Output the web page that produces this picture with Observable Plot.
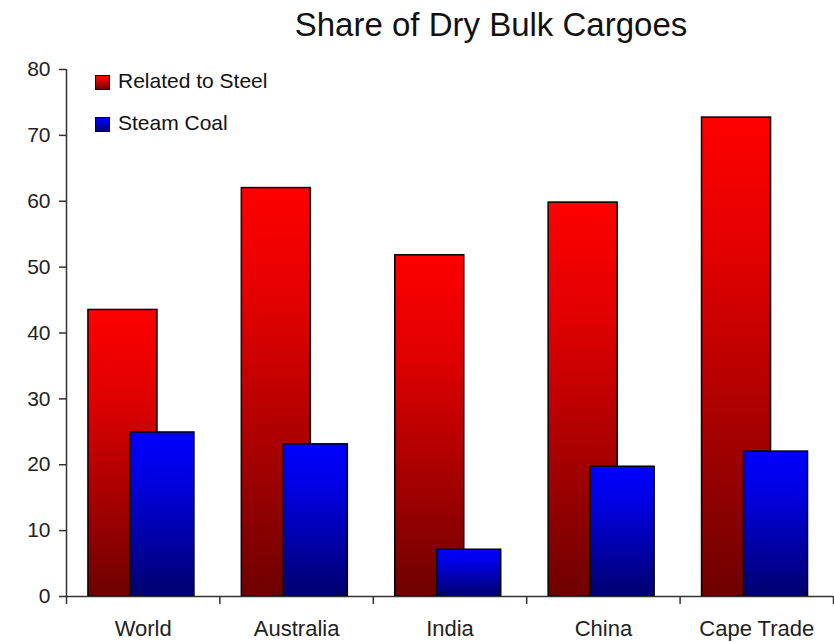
<!DOCTYPE html>
<html>
<head>
<meta charset="utf-8">
<script src="https://cdn.jsdelivr.net/npm/d3@7"></script>
<script src="https://cdn.jsdelivr.net/npm/@observablehq/plot@0.6"></script>
<style>
  html, body { margin: 0; padding: 0; background: #fff; overflow: hidden; }
  #wrap { position: relative; width: 834px; height: 642px; font-family: "Liberation Sans", Arial, sans-serif; }
  #title { position: absolute; left: 0; width: 982px; top: 6px; text-align: center; font-size: 33px; color: #111; line-height: 38px; }
  #legend { position: absolute; left: 95px; top: 70px; font-size: 21px; color: #111; }
  .item { display: flex; align-items: center; height: 21px; margin-bottom: 21px; }
  .sw { width: 13px; height: 13px; border: 1px solid #000; margin-right: 8px; margin-top: 4px; box-sizing: content-box; }
</style>
</head>
<body>
<div id="wrap">
  <div id="title">Share of Dry Bulk Cargoes</div>
  <div id="legend"></div>
</div>
<script>
// Share (%) of dry bulk cargoes by trade
const regions = ["World", "Australia", "India", "China", "Cape Trade"];
const steelShare = [43.5, 62, 51.8, 59.8, 72.7];
const coalShare = [24.9, 23.1, 7.1, 19.7, 22.0];
const yTicks = [0, 10, 20, 30, 40, 50, 60, 70, 80];

const seriesNames = ["Related to Steel", "Steam Coal"];
const gradients = {
  "Related to Steel": {id: "gradSteel", top: "#ff0000", mid: "#e00000", bottom: "#6e0000"},
  "Steam Coal": {id: "gradCoal", top: "#0000ff", mid: "#0000e0", bottom: "#00006e"}
};

// each region occupies one unit on x; bars sit at fixed fractions of the slot
const steel = regions.map((r, i) => ({i, region: r, value: steelShare[i]}));
const coal = regions.map((r, i) => ({i, region: r, value: coalShare[i]}));

const chart = Plot.plot({
  width: 834,
  height: 642,
  marginTop: 69,
  marginBottom: 46,
  marginLeft: 66,
  marginRight: 1,
  style: {fontFamily: "Liberation Sans, Arial, sans-serif", fontSize: "21px", color: "#222", background: "#fff"},
  x: {domain: [0, regions.length], axis: null},
  y: {domain: [0, 80], axis: null},
  marks: [
    Plot.rectY(steel, {
      x1: d => d.i + 0.143, x2: d => d.i + 0.593, y1: 0, y2: "value",
      fill: "url(#gradSteel)", stroke: "#000", strokeWidth: 1.5
    }),
    Plot.rectY(coal, {
      x1: d => d.i + 0.417, x2: d => d.i + 0.834, y1: 0, y2: "value",
      fill: "url(#gradCoal)", stroke: "#000", strokeWidth: 1.5
    }),
    Plot.ruleX([0], {stroke: "#333", strokeWidth: 1.5}),
    Plot.ruleY([0], {stroke: "#333", strokeWidth: 1.5}),
    Plot.axisY({ticks: yTicks, tickSize: 7, tickPadding: 9, label: null, stroke: "#333", strokeWidth: 1.5, fontSize: 21, fill: "#222"}),
    Plot.axisX({ticks: d3.range(regions.length + 1), tickSize: 8, label: null, tickFormat: () => "", stroke: "#333", strokeWidth: 1.5}),
    Plot.axisX({ticks: regions.map((r, i) => i + 0.5), tickSize: 0, tickPadding: 24, label: null,
      tickFormat: v => regions[Math.floor(v)], fontSize: 22, fill: "#222"})
  ]
});

// gradient fills: bright at the top of each bar, dark at the base
const defs = d3.select(chart).insert("defs", ":first-child");
for (const name of seriesNames) {
  const g = gradients[name];
  const lg = defs.append("linearGradient").attr("id", g.id)
    .attr("x1", 0).attr("y1", 0).attr("x2", 0).attr("y2", 1);
  lg.append("stop").attr("offset", 0).attr("stop-color", g.top);
  lg.append("stop").attr("offset", 0.3).attr("stop-color", g.mid);
  lg.append("stop").attr("offset", 1).attr("stop-color", g.bottom);
}

chart.style.position = "absolute";
chart.style.left = "0";
chart.style.top = "0";
const wrap = document.getElementById("wrap");
wrap.insertBefore(chart, wrap.firstChild);

const legend = d3.select("#legend");
for (const name of seriesNames) {
  const g = gradients[name];
  const item = legend.append("div").attr("class", "item");
  item.append("div").attr("class", "sw")
    .style("background", `linear-gradient(${g.top}, ${g.mid} 30%, ${g.bottom})`);
  item.append("span").text(name);
}
</script>
</body>
</html>
